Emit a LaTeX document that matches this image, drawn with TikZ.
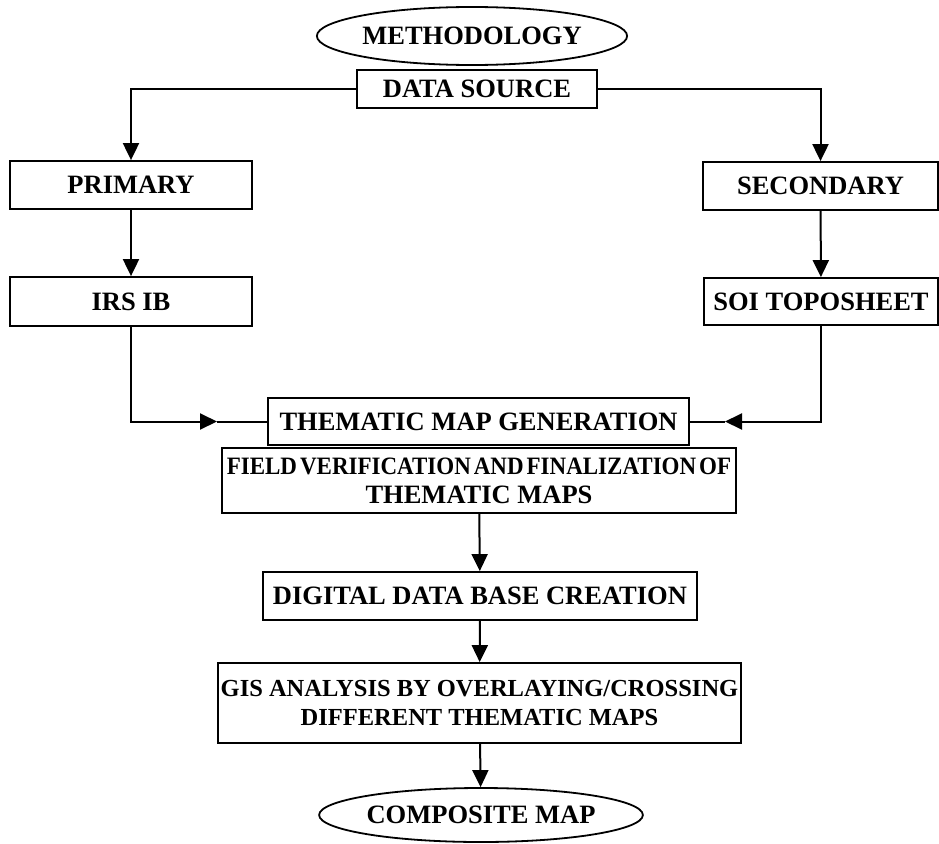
\documentclass[tikz,border=0pt]{standalone}
\usepackage{fontspec}
\setmainfont{Liberation Serif}
\newfontfamily\narrowfont{Liberation Serif}[FakeStretch=0.92]
\usetikzlibrary{arrows.meta,shapes.geometric}

\begin{document}
\begin{tikzpicture}[x=1pt, y=-1pt,
  font=\fontsize{26.5}{29}\selectfont\bfseries,
  box/.style={rectangle, draw, line width=1.8pt, inner sep=0pt, align=center},
  oval/.style={ellipse, draw, line width=1.8pt, inner sep=0pt},
  link/.style={line width=2pt},
  arr/.style={line width=2pt, -{Triangle[length=17pt, width=16pt]}}]
  \useasboundingbox (0,0) rectangle (939,843);

  % Define nodes
  \node[oval, minimum width=310pt, minimum height=58pt] (meth) at (472,36) {METHODOLOGY};
  \node[box, minimum width=240pt, minimum height=38pt] (src) at (477,89) {DATA SOURCE};
  \node[box, minimum width=242pt, minimum height=48pt] (pri) at (131,185) {PRIMARY};
  \node[box, minimum width=242pt, minimum height=49pt] (irs) at (131,301.5) {IRS IB};
  \node[box, minimum width=235pt, minimum height=48pt] (sec) at (820.5,186) {SECONDARY};
  \node[box, minimum width=234pt, minimum height=47pt] (soi) at (821,301.5) {SOI TOPOSHEET};
  \node[box, minimum width=421pt, minimum height=47pt] (tmg) at (478.5,421.5) {THEMATIC MAP GENERATION};
  \node[box, minimum width=514pt, minimum height=65pt] (fld) at (479,480.5)
    {{\fontsize{25}{29}\narrowfont\bfseries\spaceskip=0.12em FIELD VERIFICATION AND FINALIZATION OF}\\THEMATIC MAPS};
  \node[box, minimum width=434pt, minimum height=48pt] (ddb) at (480,596) {DIGITAL DATA BASE CREATION};
  \node[box, minimum width=523pt, minimum height=80pt, font=\fontsize{24.5}{29}\selectfont\bfseries] (gis) at (479.5,703)
    {GIS ANALYSIS BY OVERLAYING/CROSSING\\DIFFERENT THEMATIC MAPS};
  \node[oval, minimum width=318pt, minimum height=54pt] (comp) at (481,815) {COMPOSITE MAP};

  % Arrow heads part way along the lines
  \coordinate (lft) at (217,421.5);
  \coordinate (rgt) at (725,421.5);

  % Draw edges
  \draw[arr] (src.west) -| (pri.north);
  \draw[arr] (src.east) -| (sec.north);
  \draw[arr] (pri) -- (irs);
  \draw[arr] (sec) -- (soi);
  \draw[arr] (irs.south) |- (lft);
  \draw[link] (lft) -- (tmg.west);
  \draw[arr] (soi.south) |- (rgt);
  \draw[link] (rgt) -- (tmg.east);
  \draw[arr] (fld) -- (ddb);
  \draw[arr] (ddb) -- (gis);
  \draw[arr] (gis) -- (comp);

\end{tikzpicture}
\end{document}
